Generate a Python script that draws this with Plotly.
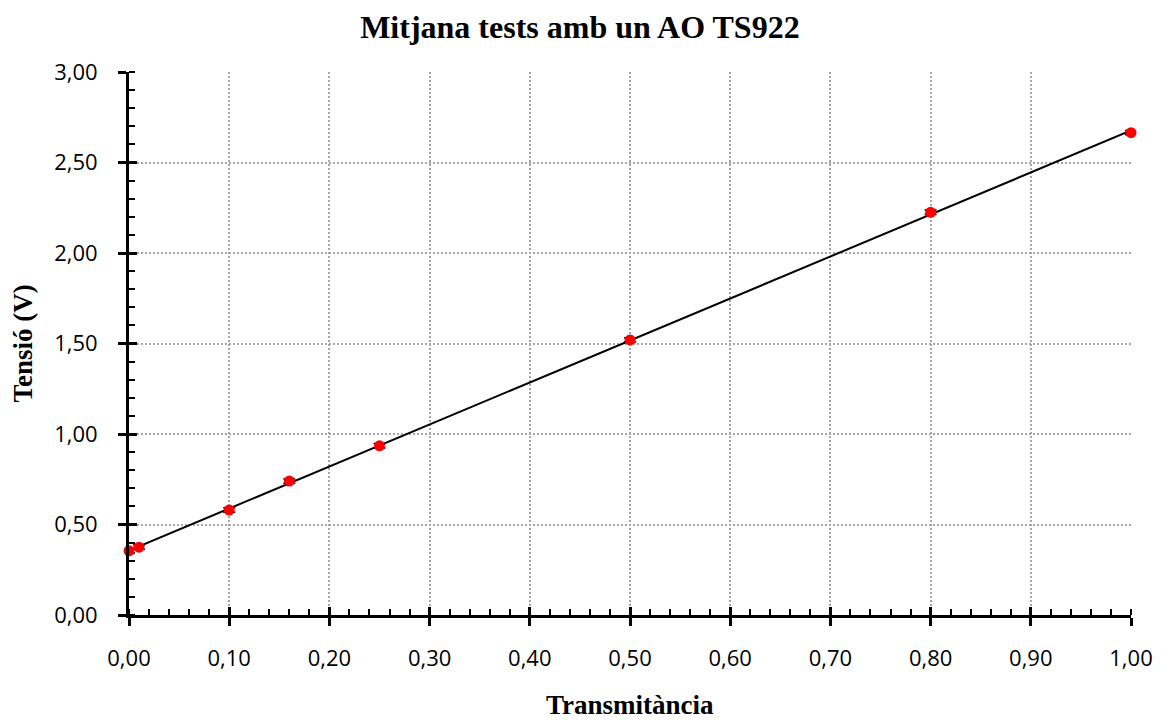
import numpy as np
import plotly.graph_objects as go

transmitancia = [0.00, 0.01, 0.10, 0.16, 0.25, 0.50, 0.80, 1.00]
tensio = [0.355, 0.375, 0.58, 0.74, 0.935, 1.52, 2.225, 2.665]
error_v = [0.012, 0.012, 0.012, 0.012, 0.012, 0.012, 0.012, 0.012]

x_ticks = [i / 10 for i in range(11)]
x_labels = [f"{v:.2f}".replace(".", ",") for v in x_ticks]
y_ticks = [i / 2 for i in range(7)]
y_labels = [f"{v:.2f}".replace(".", ",") for v in y_ticks]

slope, intercept = np.polyfit(transmitancia, tensio, 1)
fit_x = [0.0, 1.0]
fit_y = [intercept + slope * v for v in fit_x]

fig = go.Figure()
fig.add_trace(go.Scatter(x=fit_x, y=fit_y, mode="lines",
                         line=dict(color="black", width=2), showlegend=False,
                         hoverinfo="skip"))
fig.add_trace(go.Scatter(x=transmitancia, y=tensio, mode="markers",
                         marker=dict(color="#ff0000", size=11),
                         error_y=dict(type="data", array=error_v, color="black",
                                      thickness=1.5, width=6),
                         cliponaxis=False, showlegend=False))
# invisible trace on overlay axes for crossing major ticks
fig.add_trace(go.Scatter(x=[0], y=[0], xaxis="x2", yaxis="y2", mode="markers",
                         marker=dict(opacity=0), showlegend=False, hoverinfo="skip"))

axis_font = dict(family="'Open Sans', Lato, sans-serif", size=22, color="black")
grid_col = "#a6a6a6"
fig.update_layout(
    width=1164, height=714,
    margin=dict(l=121, r=41, t=64, b=107),
    paper_bgcolor="white", plot_bgcolor="white",
    title=dict(text="<b>Mitjana tests amb un AO TS922</b>", x=0.45, xanchor="center",
               xref="paper", yref="container", y=0.973, yanchor="middle",
               font=dict(family="Liberation Serif", size=32, color="black")),
    xaxis=dict(range=[0, 1.0], tickvals=x_ticks, ticktext=x_labels,
               showgrid=True, gridcolor=grid_col, griddash="2px,2px", gridwidth=1.5,
               showline=True, linecolor="black", linewidth=3,
               ticks="outside", ticklen=8, tickwidth=2.5, tickcolor="black",
               ticklabelstandoff=14,
               minor=dict(dtick=0.02, ticks="inside", ticklen=6, tickwidth=2,
                          tickcolor="black", showgrid=False),
               tickfont=axis_font, zeroline=False, fixedrange=True),
    yaxis=dict(range=[0, 3.0], tickvals=y_ticks, ticktext=y_labels,
               showgrid=True, gridcolor=grid_col, griddash="2px,2px", gridwidth=1.5,
               showline=True, linecolor="black", linewidth=3,
               ticks="outside", ticklen=8, tickwidth=2.5, tickcolor="black",
               ticklabelstandoff=16,
               minor=dict(dtick=0.1, ticks="inside", ticklen=6, tickwidth=2,
                          tickcolor="black", showgrid=False),
               tickfont=axis_font, zeroline=False, fixedrange=True),
    xaxis2=dict(overlaying="x", range=[0, 1.0], tickvals=x_ticks, showticklabels=False,
                ticks="inside", ticklen=8, tickwidth=2.5, tickcolor="black",
                showgrid=False, zeroline=False, showline=False, anchor="y"),
    yaxis2=dict(overlaying="y", range=[0, 3.0], tickvals=y_ticks, showticklabels=False,
                ticks="inside", ticklen=8, tickwidth=2.5, tickcolor="black",
                showgrid=False, zeroline=False, showline=False, anchor="x"),
    annotations=[
        dict(text="<b>Transmitància</b>", xref="paper", yref="paper", x=0.5, y=-0.166,
             xanchor="center", yanchor="middle", showarrow=False,
             font=dict(family="Liberation Serif", size=27, color="black")),
        dict(text="<b>Tensió (V)</b>", xref="paper", yref="paper", x=-0.1058, y=0.5,
             xanchor="center", yanchor="middle", textangle=-90, showarrow=False,
             font=dict(family="Liberation Serif", size=27, color="black")),
    ],
)

fig.write_html("out.html")
